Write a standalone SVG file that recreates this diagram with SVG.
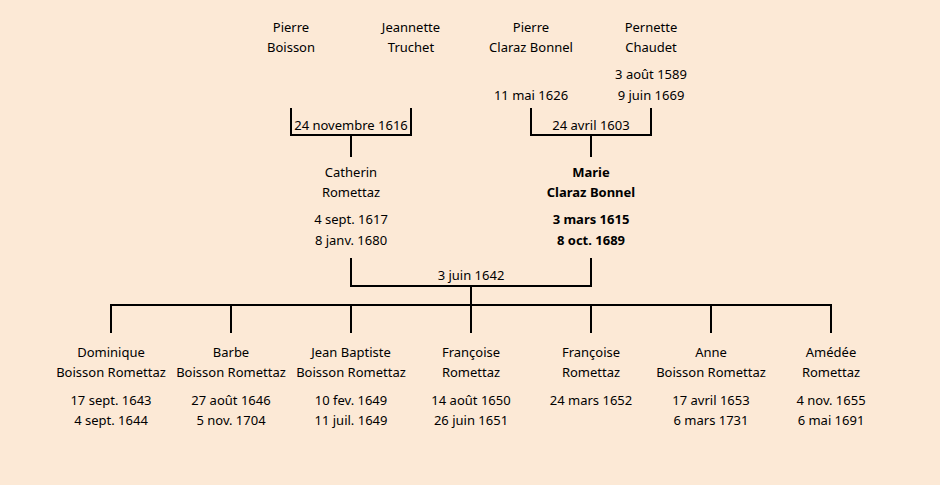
<svg xmlns="http://www.w3.org/2000/svg" width="940" height="485" viewBox="0 0 940 485">
<style>
text{font-family:"Comic Sans MS","Noto Sans","Liberation Sans",sans-serif;font-size:13px;fill:#000;text-anchor:middle}
.b{font-weight:bold}
.ln{stroke:#000;stroke-width:2;fill:none}
</style>
<rect width="940" height="485" fill="#FCE9D6"/>
<g id="connectors" class="ln">
<path d="M291,108V135H411V108M351,135V157"/>
<path d="M531,108V135H651V108M591,135V157"/>
<path d="M351,258V286H591V258M471,286V305"/>
<path d="M111,333V305H831V333M231,305V333M351,305V333M471,305V333M591,305V333M711,305V333"/>
</g>
<g id="labels">
<text x="351" y="130">24 novembre 1616</text>
<text x="591" y="130">24 avril 1603</text>
<text x="471" y="280">3 juin 1642</text>
</g>
<g id="n-pierre-boisson"><text x="291" y="32">Pierre</text><text x="291" y="52">Boisson</text></g>
<g id="n-jeannette"><text x="411" y="32">Jeannette</text><text x="411" y="52">Truchet</text></g>
<g id="n-pierre-claraz"><text x="531" y="32">Pierre</text><text x="531" y="52">Claraz Bonnel</text><text x="531" y="100">11 mai 1626</text></g>
<g id="n-pernette"><text x="651" y="32">Pernette</text><text x="651" y="52">Chaudet</text><text x="651" y="79">3 août 1589</text><text x="651" y="100">9 juin 1669</text></g>
<g id="n-catherin"><text x="351" y="177">Catherin</text><text x="351" y="197">Romettaz</text><text x="351" y="224">4 sept. 1617</text><text x="351" y="245">8 janv. 1680</text></g>
<g id="n-marie" class="b"><text class="b" x="591" y="177">Marie</text><text class="b" x="591" y="197">Claraz Bonnel</text><text class="b" x="591" y="224">3 mars 1615</text><text class="b" x="591" y="245">8 oct. 1689</text></g>
<g id="n-dominique"><text x="111" y="357">Dominique</text><text x="111" y="377">Boisson Romettaz</text><text x="111" y="405">17 sept. 1643</text><text x="111" y="425">4 sept. 1644</text></g>
<g id="n-barbe"><text x="231" y="357">Barbe</text><text x="231" y="377">Boisson Romettaz</text><text x="231" y="405">27 août 1646</text><text x="231" y="425">5 nov. 1704</text></g>
<g id="n-jean-baptiste"><text x="351" y="357">Jean Baptiste</text><text x="351" y="377">Boisson Romettaz</text><text x="351" y="405">10 fev. 1649</text><text x="351" y="425">11 juil. 1649</text></g>
<g id="n-francoise1"><text x="471" y="357">Françoise</text><text x="471" y="377">Romettaz</text><text x="471" y="405">14 août 1650</text><text x="471" y="425">26 juin 1651</text></g>
<g id="n-francoise2"><text x="591" y="357">Françoise</text><text x="591" y="377">Romettaz</text><text x="591" y="405">24 mars 1652</text></g>
<g id="n-anne"><text x="711" y="357">Anne</text><text x="711" y="377">Boisson Romettaz</text><text x="711" y="405">17 avril 1653</text><text x="711" y="425">6 mars 1731</text></g>
<g id="n-amedee"><text x="831" y="357">Amédée</text><text x="831" y="377">Romettaz</text><text x="831" y="405">4 nov. 1655</text><text x="831" y="425">6 mai 1691</text></g>
</svg>
